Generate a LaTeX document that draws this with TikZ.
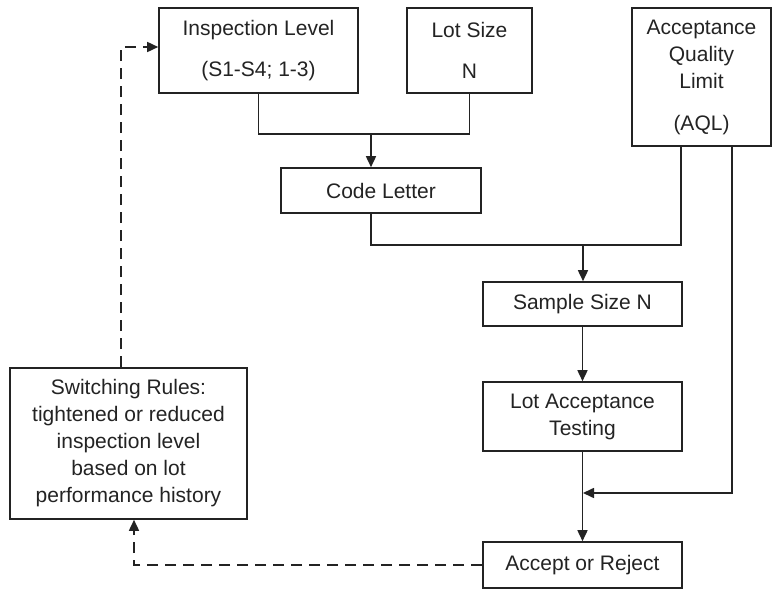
\documentclass[tikz,border=0pt]{standalone}
\usepackage{fontspec}
\setmainfont{Liberation Sans}
\usetikzlibrary{arrows.meta,calc}
\definecolor{ink}{RGB}{35,35,35}
\begin{document}
\begin{tikzpicture}[x=1pt,y=-1pt,
  box/.style={draw=ink,text=ink,line width=1.6pt,rectangle,inner sep=0pt,align=center,
    font=\fontsize{21}{27}\selectfont},
  conn/.style={draw=ink,line width=1.6pt},
  arr/.style={conn,-{Triangle[length=11pt,width=10pt]}},
  darr/.style={arr,dash pattern=on 11pt off 7pt}]
\useasboundingbox (0,0) rectangle (772,589);
\node[box,minimum width=199pt,minimum height=85pt] (insp) at (258.5,50.5)
  {Inspection Level\\[14pt](S1-S4; 1-3)};
\node[box,minimum width=125pt,minimum height=85pt] (lot) at (469.5,50.5)
  {Lot Size\\[14pt]N};
\node[box,minimum width=139pt,minimum height=138pt] (aql) at (701.5,77)
  {Acceptance\\[0pt]Quality\\[0pt]Limit\\[15pt](AQL)};
\node[box,minimum width=200pt,minimum height=45pt] (code) at (381,190.5)
  {Code Letter};
\node[box,minimum width=199pt,minimum height=44pt] (sample) at (582.5,304)
  {Sample Size N};
\node[box,minimum width=199pt,minimum height=69pt] (lat) at (582.5,416.5)
  {Lot Acceptance\\Testing};
\node[box,minimum width=199pt,minimum height=46pt] (acc) at (582.5,565)
  {Accept or Reject};
\node[box,minimum width=237pt,minimum height=151pt] (sw) at (128.5,443.5)
  {Switching Rules:\\tightened or reduced\\inspection level\\based on lot\\performance history};
% junctions
\coordinate (j1) at (371,134);
\coordinate (j2) at (583,245);
\coordinate (j3) at (583,493);
\coordinate (a1) at ($(aql.south west)+(50,0)$);
\coordinate (a2) at ($(aql.south west)+(101,0)$);
\coordinate (s1) at ($(sw.south)+(5.5,0)$);
\coordinate (s2) at ($(sw.north)+(-7.5,0)$);
\coordinate (t1) at ($(insp.west)+(0,-3.5)$);
% connectors
\draw[conn] (insp.south) |- (j1) -| (lot.south);
\draw[arr] (j1) -- (j1 |- code.north);
\draw[conn] (j1 |- code.south) |- (j2) -| (a1);
\draw[arr] (j2) -- (j2 |- sample.north);
\draw[arr] (sample.south) -- (lat.north);
\draw[arr] (lat.south) -- (acc.north);
\draw[arr] (a2) |- (j3);
\draw[darr] (acc.west) -| (s1);
\draw[darr] (s2) |- (t1);
\end{tikzpicture}
\end{document}
